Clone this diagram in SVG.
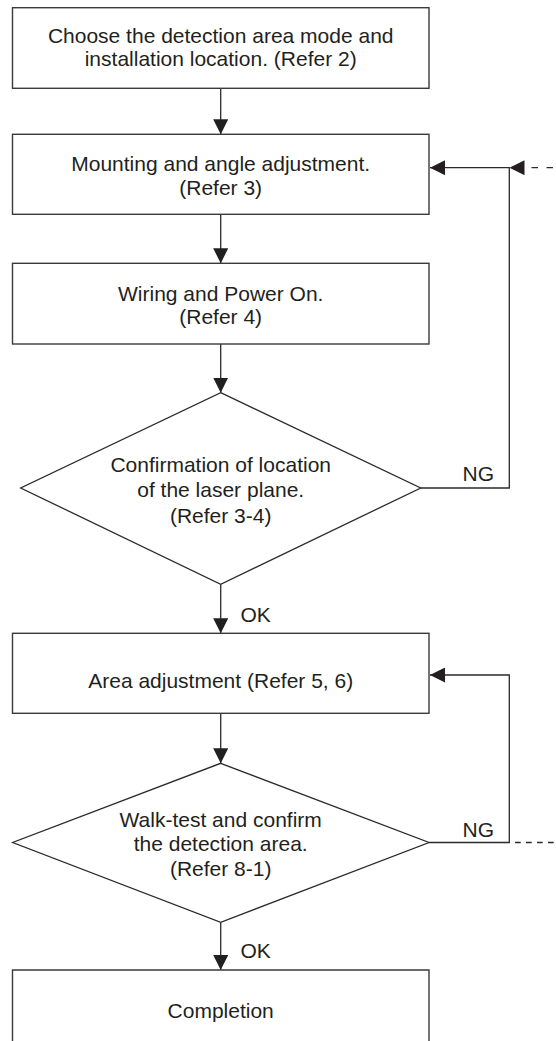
<svg xmlns="http://www.w3.org/2000/svg" width="556" height="1041" viewBox="0 0 556 1041">
<style>
.box{fill:#fff;stroke:#3a3a3a;stroke-width:1.4}
.dia{fill:#fff;stroke:#2a2a2a;stroke-width:1.3}
.t{font-family:"Liberation Sans",Arial,sans-serif;font-size:21px;fill:#231f20;text-anchor:middle}
.lbl{font-family:"Liberation Sans",Arial,sans-serif;font-size:21px;fill:#231f20}
.ln{fill:none;stroke:#2a2a2a;stroke-width:1.3}
.dash{fill:none;stroke:#2a2a2a;stroke-width:1.3}
</style>
<defs>
<marker id="ah" viewBox="0 0 15 15" refX="15" refY="7.5" markerWidth="15" markerHeight="15" markerUnits="userSpaceOnUse" orient="auto">
<path d="M0,0 L15,7.5 L0,15 Z" fill="#231f20"/>
</marker>
</defs>
<rect width="556" height="1041" fill="#fff"/>
<g id="connectors">
<line class="ln" x1="220.7" y1="88.3" x2="220.7" y2="134.3" marker-end="url(#ah)"/>
<line class="ln" x1="220.7" y1="214.3" x2="220.7" y2="263.3" marker-end="url(#ah)"/>
<line class="ln" x1="220.7" y1="344" x2="220.7" y2="392.7" marker-end="url(#ah)"/>
<line class="ln" x1="220.7" y1="584.3" x2="220.7" y2="633.3" marker-end="url(#ah)"/>
<line class="ln" x1="220.7" y1="713.3" x2="220.7" y2="763.3" marker-end="url(#ah)"/>
<line class="ln" x1="220.7" y1="922.3" x2="220.7" y2="970" marker-end="url(#ah)"/>
<path class="ln" d="M420.7,488 H509.3 V167.7 H430" marker-end="url(#ah)"/>
<path class="dash" d="M553,167.7 H509.5" stroke-dasharray="6.5 8.5" marker-end="url(#ah)"/>
<path class="ln" d="M429,842.5 H509.3 V675 H430" marker-end="url(#ah)"/>
<path class="dash" d="M515,842.5 H556" stroke-dasharray="5.7 5.3"/>
<text class="lbl" x="462.5" y="480.7">NG</text>
<text class="lbl" x="462.5" y="837">NG</text>
<text class="lbl" x="240.5" y="621.5">OK</text>
<text class="lbl" x="240.5" y="958.3">OK</text>
</g>
<g id="n1">
<rect class="box" x="12.5" y="7.7" width="416.5" height="80.6"/>
<text class="t" x="220.7" y="42.5">Choose the detection area mode and</text>
<text class="t" x="220.7" y="66">installation location. (Refer 2)</text>
</g>
<g id="n2">
<rect class="box" x="12.5" y="134.3" width="416.5" height="80"/>
<text class="t" x="220.7" y="171">Mounting and angle adjustment.</text>
<text class="t" x="220.7" y="194.5">(Refer 3)</text>
</g>
<g id="n3">
<rect class="box" x="12.5" y="263.3" width="416.5" height="80.7"/>
<text class="t" x="220.7" y="300.5">Wiring and Power On.</text>
<text class="t" x="220.7" y="324">(Refer 4)</text>
</g>
<g id="n4">
<polygon class="dia" points="220.7,392.7 420.7,488 220.7,584.3 20.7,488"/>
<text class="t" x="220.7" y="471.5">Confirmation of location</text>
<text class="t" x="220.7" y="497">of the laser plane.</text>
<text class="t" x="220.7" y="522.5">(Refer 3-4)</text>
</g>
<g id="n5">
<rect class="box" x="12.5" y="633.3" width="416.5" height="80"/>
<text class="t" x="220.7" y="688">Area adjustment (Refer 5, 6)</text>
</g>
<g id="n6">
<polygon class="dia" points="220.7,763.3 429,842.5 220.7,922.3 12.7,842.5"/>
<text class="t" x="220.7" y="826.7">Walk-test and confirm</text>
<text class="t" x="220.7" y="851">the detection area.</text>
<text class="t" x="220.7" y="875.5">(Refer 8-1)</text>
</g>
<g id="n7">
<path class="box" d="M12.5,1045 V970 H429 V1045"/>
<text class="t" x="220.7" y="1018.3">Completion</text>
</g>
</svg>
